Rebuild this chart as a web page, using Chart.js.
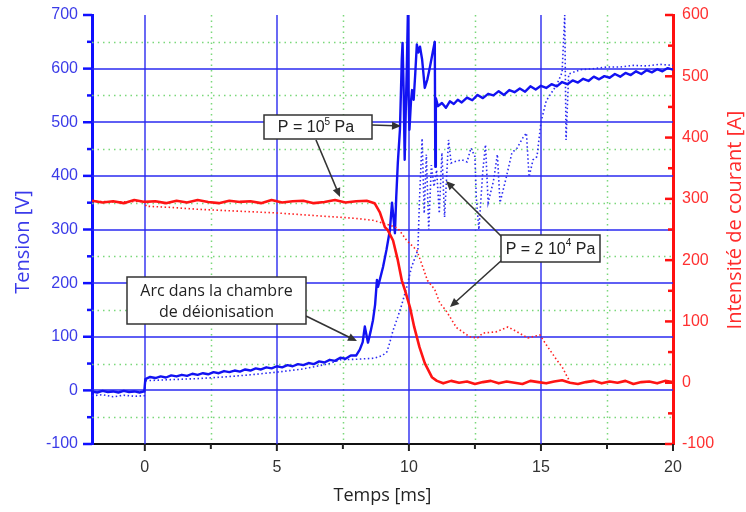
<!DOCTYPE html>
<html><head><meta charset="utf-8">
<script src="https://cdn.jsdelivr.net/npm/chart.js@4.4.1/dist/chart.umd.min.js"></script>
<style>html,body{margin:0;padding:0;background:#fff;}#wrap{width:746px;height:512px;}</style>
</head><body><div id="wrap"><canvas id="c" width="746" height="512"></canvas></div>
<script>
// ---- tick labels / grid values ----
const xTicks = [0, 5, 10, 15, 20];
const xMinor = [2.5, 7.5, 12.5, 17.5];
const vTicks = [-100, 0, 100, 200, 300, 400, 500, 600, 700];
const vMinor = [-50, 50, 150, 250, 350, 450, 550, 650];
const vGrid = [0, 100, 200, 300, 400, 500, 600];
const xGrid = [0, 5, 10, 15];
const iTicks = [-100, 0, 100, 200, 300, 400, 500, 600];
const iMinor = [-50, 50, 150, 250, 350, 450, 550];

// ---- Tension, P = 1e5 Pa (solid blue) ----
const tV1 = [-2,-1.8,-1.6,-1.4,-1.2,-1,-0.8,-0.6,-0.4,-0.2,-0.02,
0.02,0.2,0.4,0.6,0.8,1,1.2,1.4,1.6,1.8,2,2.2,2.4,2.6,2.8,3,3.2,3.4,3.6,3.8,4,4.2,4.4,4.6,4.8,5,5.2,5.4,5.6,5.8,6,6.2,6.4,6.6,6.8,7,7.2,7.4,7.6,7.8,8,
8.14,8.25,8.33,8.45,8.55,8.64,8.72,8.79,8.83,9.02,9.15,9.28,9.36,9.42,9.47,9.52,9.58,9.66,9.7,9.73,9.76,9.8,9.84,9.88,9.92,9.96,9.98,10.02,10.08,10.12,10.18,10.24,10.3,10.36,10.42,10.5,10.6,10.7,10.8,10.9,10.98,11,11.02,
11.1,11.25,11.4,11.55,11.7,11.85,12,12.2,12.4,12.6,12.8,13,13.2,13.4,13.6,13.8,14,14.2,14.4,14.6,14.8,15,15.2,15.4,15.6,15.8,16,16.2,16.4,16.6,16.8,17,17.2,17.4,17.6,17.8,18,18.2,18.4,18.6,18.8,19,19.2,19.4,19.6,19.8,20];
const v1 = [-2,-4,-1,-3,-2,-4,-1,-3,-2,-4,-2,
21,25,23,26,24,28,26,29,27,31,29,32,30,34,32,36,34,37,35,39,37,41,39,43,41,45,43,47,45,49,47,51,49,54,52,57,55,61,59,65,65,
76,90,119,89,110,131,160,206,193,230,262,299,350,320,293,360,424,486,560,617,648,560,430,520,600,700,560,486,540,560,542,590,645,630,641,617,564,580,604,630,650,417,545,
530,536,527,539,534,542,537,546,541,551,545,553,550,558,551,560,556,563,557,567,561,568,564,571,567,575,571,578,574,581,577,585,580,586,583,590,585,592,588,595,590,597,593,599,595,601,598];

// ---- Tension, P = 2e4 Pa (dotted blue) ----
const tV2 = [-2,-1.6,-1.2,-0.8,-0.4,-0.02,0.02,1,2,3,4,5,6,7,7.4,8,8.7,9,9.17,9.28,9.4,9.58,9.73,9.92,10.1,10.34,10.4,10.5,10.58,10.66,10.75,10.85,10.95,11.05,11.15,11.25,11.35,11.5,11.6,11.7,12,12.2,12.35,12.5,12.55,12.65,12.8,12.9,13,13.2,13.35,13.45,13.7,13.9,14.1,14.3,14.45,14.55,14.7,14.85,15,15.2,15.4,15.6,15.8,15.9,15.95,16.05,16.5,17,17.5,18,18.5,19,19.5,20];
const v2 = [-10,-8,-12,-9,-11,-10,18,20,22,25,29,34,40,50,57,58,60,65,72,90,112,137,160,193,230,262,355,470,330,440,300,420,380,411,330,443,323,467,424,426,430,426,452,436,361,300,410,458,350,390,440,350,400,443,452,470,480,398,430,436,500,540,555,570,593,700,467,590,598,600,603,603,606,605,608,606];

// ---- Courant, P = 1e5 Pa (solid red) ----
const tI1 = [-2,-1.6,-1.2,-0.8,-0.4,0,0.4,0.8,1.2,1.6,2,2.4,2.8,3.2,3.6,4,4.4,4.8,5.2,5.6,6,6.4,6.8,7.2,7.6,8,8.4,8.7,8.9,9.09,9.2,9.4,9.58,9.73,9.85,10.04,10.2,10.4,10.6,10.87,11.06,11.3,11.6,11.9,12.2,12.5,12.8,13.1,13.4,13.7,14,14.3,14.6,14.9,15.2,15.5,15.8,16.1,16.4,16.7,17,17.3,17.6,17.9,18.2,18.5,18.8,19.1,19.4,19.7,20];
const i1 = [297,294,296,293,298,295,296,293,297,294,298,295,293,297,295,296,293,298,294,296,297,293,295,298,294,296,297,293,278,254,249,232,200,167,151,123,91,58,32,9,3,-1,3,0,2,-2,1,3,-1,2,0,-2,3,1,-1,2,4,0,-2,1,3,-1,2,0,3,-2,1,2,-1,3,1];

// ---- Courant, P = 2e4 Pa (dotted red) ----
const tI2 = [-2,-1,-0.02,0.05,1,2,3,4,5,6,7,7.4,8,8.64,9.28,9.58,9.92,10.3,10.5,10.7,10.98,11.17,11.4,11.8,12.3,12.6,12.8,13.3,13.75,14.1,14.5,14.96,15.2,15.6,15.8,16,16.1];
const i2 = [296,295,296,288,286,283,281,279,277,274,271,270,268,265,257,252,232,216,192,167,152,130,118,90,75,73,81,83,91,83,73,78,62,37,26,9,2];

const pts = (ts, vs) => ts.map((t, k) => ({x: t, y: vs[k]}));

function arrow(ctx, x1, y1, x2, y2) {
  const a = Math.atan2(y2 - y1, x2 - x1), L = 9, W = 4;
  ctx.beginPath(); ctx.moveTo(x1, y1); ctx.lineTo(x2 - L * 0.7 * Math.cos(a), y2 - L * 0.7 * Math.sin(a)); ctx.stroke();
  ctx.beginPath();
  ctx.moveTo(x2, y2);
  ctx.lineTo(x2 - L * Math.cos(a) + W * Math.sin(a), y2 - L * Math.sin(a) - W * Math.cos(a));
  ctx.lineTo(x2 - L * Math.cos(a) - W * Math.sin(a), y2 - L * Math.sin(a) + W * Math.cos(a));
  ctx.closePath(); ctx.fill();
}
function supText(ctx, parts, cx, cy, size) {
  const big = size + 'px "Liberation Sans", Arial, sans-serif';
  const sml = Math.round(size * 0.62) + 'px "Liberation Sans", Arial, sans-serif';
  let w = 0;
  parts.forEach(p => { ctx.font = p.sup ? sml : big; w += ctx.measureText(p.t).width; });
  let x = cx - w / 2;
  ctx.textAlign = 'left'; ctx.textBaseline = 'middle';
  parts.forEach(p => {
    ctx.font = p.sup ? sml : big;
    ctx.fillText(p.t, x, p.sup ? cy - size * 0.38 : cy);
    x += ctx.measureText(p.t).width;
  });
}
function box(ctx, x, y, w, h) {
  ctx.fillStyle = '#fff'; ctx.fillRect(x, y, w, h);
  ctx.strokeStyle = '#333'; ctx.lineWidth = 1.5; ctx.strokeRect(x, y, w, h);
}
const noPad = s => { s.paddingTop = 0; s.paddingBottom = 0; s.paddingLeft = 0; s.paddingRight = 0; };

const deco = {
  id: 'deco',
  beforeDatasetsDraw(chart) {
    const {ctx, chartArea: a, scales: {x, y}} = chart;
    ctx.save();
    ctx.lineWidth = 1.5; ctx.strokeStyle = '#7ad87a'; ctx.setLineDash([1.5, 4]);
    vMinor.forEach(v => { const p = Math.round(y.getPixelForValue(v)) + 0.5; if (p > a.top && p < a.bottom) { ctx.beginPath(); ctx.moveTo(a.left, p); ctx.lineTo(a.right, p); ctx.stroke(); } });
    xMinor.forEach(t => { const p = Math.round(x.getPixelForValue(t)) + 0.5; ctx.beginPath(); ctx.moveTo(p, a.top); ctx.lineTo(p, a.bottom); ctx.stroke(); });
    ctx.setLineDash([]);
    ctx.strokeStyle = '#2a2af0'; ctx.lineWidth = 1.4;
    vGrid.forEach(v => { const p = Math.round(y.getPixelForValue(v)); ctx.beginPath(); ctx.moveTo(a.left, p); ctx.lineTo(a.right, p); ctx.stroke(); });
    xGrid.forEach(t => { const p = Math.round(x.getPixelForValue(t)); ctx.beginPath(); ctx.moveTo(p, a.top); ctx.lineTo(p, a.bottom); ctx.stroke(); });
    ctx.restore();
  },
  afterDraw(chart) {
    const {ctx, chartArea: a, scales: {x, y, y1}} = chart;
    ctx.save();
    // tick marks
    ctx.lineWidth = 2.5; ctx.strokeStyle = '#1010ff';
    vTicks.forEach(v => { const p = y.getPixelForValue(v); ctx.beginPath(); ctx.moveTo(a.left - 9, p); ctx.lineTo(a.left, p); ctx.stroke(); });
    vMinor.forEach(v => { const p = y.getPixelForValue(v); ctx.beginPath(); ctx.moveTo(a.left - 5, p); ctx.lineTo(a.left, p); ctx.stroke(); });
    ctx.strokeStyle = '#ff1010';
    iTicks.forEach(v => { const p = y1.getPixelForValue(v); ctx.beginPath(); ctx.moveTo(a.right - 8, p); ctx.lineTo(a.right, p); ctx.stroke(); });
    iMinor.forEach(v => { const p = y1.getPixelForValue(v); ctx.beginPath(); ctx.moveTo(a.right - 5, p); ctx.lineTo(a.right, p); ctx.stroke(); });
    ctx.strokeStyle = '#222'; ctx.lineWidth = 2;
    xTicks.forEach(t => { const p = x.getPixelForValue(t); ctx.beginPath(); ctx.moveTo(p, a.bottom); ctx.lineTo(p, a.bottom + 7); ctx.stroke(); });
    xMinor.forEach(t => { const p = x.getPixelForValue(t); ctx.beginPath(); ctx.moveTo(p, a.bottom); ctx.lineTo(p, a.bottom + 5); ctx.stroke(); });

    // annotations
    ctx.strokeStyle = '#333'; ctx.fillStyle = '#333'; ctx.lineWidth = 1.6;
    arrow(ctx, 372, 125, 401, 126);
    arrow(ctx, 316, 140, 340, 197);
    arrow(ctx, 502, 237, 446, 181);
    arrow(ctx, 502, 260, 450, 307);
    arrow(ctx, 306, 316, 357, 341);
    box(ctx, 264, 115, 108, 24);
    box(ctx, 501, 235, 99, 27);
    box(ctx, 127, 277, 179, 47);
    ctx.fillStyle = '#222';
    supText(ctx, [{t: 'P = 10'}, {t: '5', sup: true}, {t: ' Pa'}], 316, 128, 16);
    supText(ctx, [{t: 'P = 2 10'}, {t: '4', sup: true}, {t: ' Pa'}], 550.5, 249.5, 16);
    ctx.font = '16px "Open Sans", sans-serif'; ctx.textAlign = 'center'; ctx.textBaseline = 'middle';
    ctx.fillText('Arc dans la chambre', 216.5, 291);
    ctx.fillText('de déionisation', 216.5, 312);

    // axis titles
    ctx.font = '20px "Open Sans", sans-serif';
    ctx.save(); ctx.translate(23, 242); ctx.rotate(-Math.PI / 2); ctx.fillStyle = '#3a3aea'; ctx.fillText('Tension [V]', 0, 0); ctx.restore();
    ctx.save(); ctx.translate(735, 220); ctx.rotate(-Math.PI / 2); ctx.fillStyle = '#ff2b2b'; ctx.fillText('Intensité de courant [A]', 0, 0); ctx.restore();
    ctx.restore();
  }
};

const tickFont = {family: '"Liberation Sans", Arial, sans-serif', size: 16};
new Chart(document.getElementById('c'), {
  type: 'line',
  data: {
    datasets: [
      {label: 'I, P = 1e5 Pa', data: pts(tI1, i1), yAxisID: 'y1', borderColor: '#ff1414', borderWidth: 2.6, pointRadius: 0, tension: 0, borderJoinStyle: 'round'},
      {label: 'I, P = 2e4 Pa', data: pts(tI2, i2), yAxisID: 'y1', borderColor: '#ff2020', borderWidth: 1.6, borderDash: [1.5, 2.5], pointRadius: 0, tension: 0},
      {label: 'U, P = 1e5 Pa', data: pts(tV1, v1), yAxisID: 'y', borderColor: '#1212f2', borderWidth: 2.4, pointRadius: 0, tension: 0, borderJoinStyle: 'round'},
      {label: 'U, P = 2e4 Pa', data: pts(tV2, v2), yAxisID: 'y', borderColor: '#2a2af2', borderWidth: 1.6, borderDash: [1.5, 2.5], pointRadius: 0, tension: 0}
    ]
  },
  options: {
    responsive: false, animation: false, devicePixelRatio: 1,
    layout: {padding: {top: 15, left: 0, right: 0, bottom: 0}},
    plugins: {legend: {display: false}, tooltip: {enabled: false}},
    scales: {
      x: {
        type: 'linear', position: 'bottom', min: -2, max: 20,
        afterBuildTicks: s => { s.ticks = xTicks.map(v => ({value: v})); },
        afterFit: s => { s.height = 68; noPad(s); },
        ticks: {font: tickFont, color: '#333', padding: 14, maxRotation: 0, autoSkip: false},
        grid: {display: false, drawTicks: false},
        border: {display: true, color: '#111', width: 2},
        title: {display: true, text: 'Temps [ms]', color: '#222', font: {family: '"Open Sans", sans-serif', size: 18}, padding: {top: 0, bottom: 5}}
      },
      y: {
        type: 'linear', position: 'left', min: -100, max: 700,
        afterBuildTicks: s => { s.ticks = vTicks.map(v => ({value: v})); },
        afterFit: s => { s.width = 92; noPad(s); },
        ticks: {font: tickFont, color: '#3b3be8', padding: 14, autoSkip: false},
        grid: {display: false, drawTicks: false},
        border: {display: true, color: '#1010ff', width: 3}
      },
      y1: {
        type: 'linear', position: 'right', min: -100, max: 600,
        afterBuildTicks: s => { s.ticks = iTicks.map(v => ({value: v})); },
        afterFit: s => { s.width = 73; noPad(s); },
        ticks: {font: tickFont, color: '#ff3030', padding: 9, autoSkip: false},
        grid: {display: false, drawTicks: false},
        border: {display: true, color: '#ff1010', width: 3}
      }
    }
  },
  plugins: [deco]
});
</script>
</body></html>
